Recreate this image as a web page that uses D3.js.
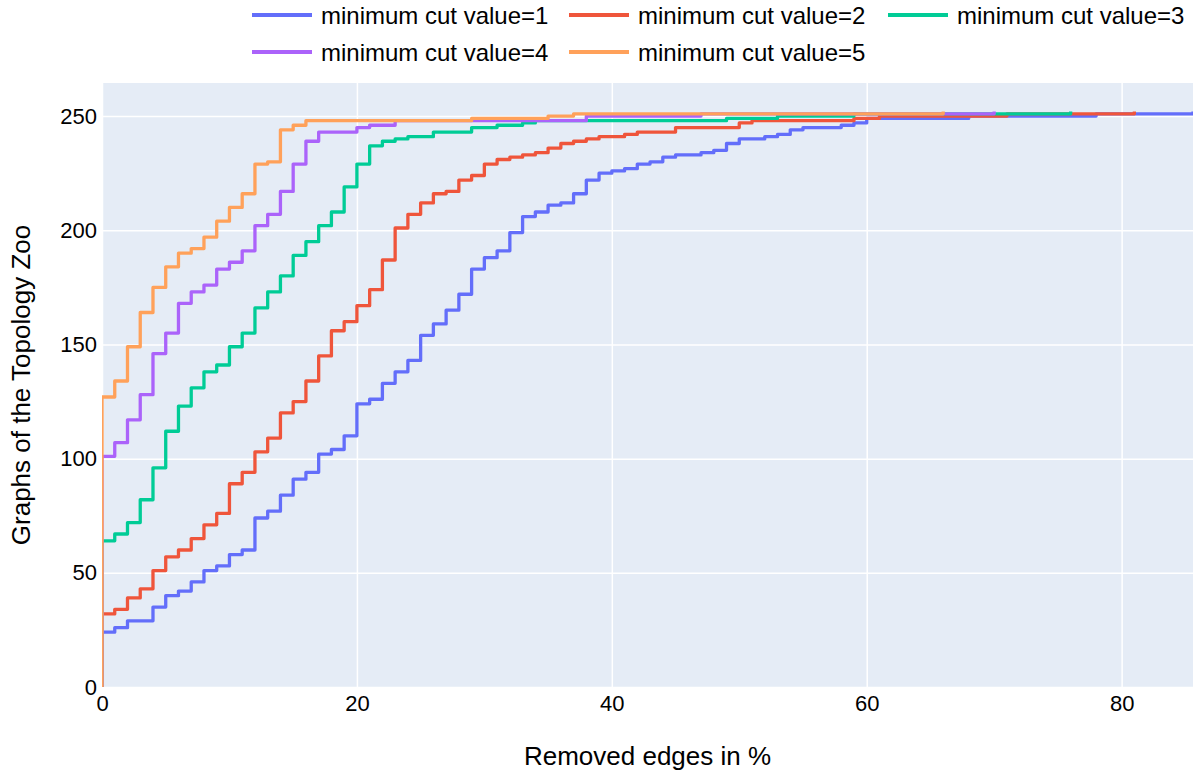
<!DOCTYPE html>
<meta charset="utf-8">
<script src="https://d3js.org/d3.v7.min.js"></script>
<style>
  body { margin: 0; background: #fff; }
  text { font-family: "Liberation Sans", Arial, sans-serif; fill: #000; }
</style>
<div id="chart"></div>
<script>
// step positions (removed edges in %) and cumulative number of graphs reached at that step
const series = ["minimum cut value=1", "minimum cut value=2", "minimum cut value=3", "minimum cut value=4", "minimum cut value=5"];
const colors = ["#636efa", "#EF553B", "#00cc96", "#ab63fa", "#FFA15A"];

const cut1X = [0, 0, 1, 2, 4, 5, 6, 7, 8, 9, 10, 11, 12, 13, 14, 15, 16, 17, 18, 19, 20, 21, 22, 23, 24, 25, 26, 27, 28, 29, 30, 31, 32, 33, 34, 35, 36, 37, 38, 39, 40, 41, 42, 43, 44, 45, 47, 48, 49, 50, 52, 53, 54, 55, 58, 59, 60, 68, 78, 85.6];
const cut1Y = [0, 24, 26, 29, 35, 40, 42, 46, 51, 53, 58, 60, 74, 77, 84, 91, 94, 102, 104, 110, 124, 126, 133, 138, 143, 154, 159, 165, 172, 183, 188, 191, 199, 206, 208, 211, 212, 216, 222, 225, 226, 227, 229, 230, 232, 233, 234, 235, 238, 240, 241, 242, 244, 245, 246, 247, 249, 250, 251, 252];

const cut2X = [0, 0, 1, 2, 3, 4, 5, 6, 7, 8, 9, 10, 11, 12, 13, 14, 15, 16, 17, 18, 19, 20, 21, 22, 23, 24, 25, 26, 27, 28, 29, 30, 31, 32, 33, 34, 35, 36, 37, 38, 39, 41, 42, 45, 50, 51, 59, 61, 71, 81];
const cut2Y = [0, 32, 34, 39, 43, 51, 57, 60, 65, 71, 76, 89, 94, 103, 109, 120, 125, 134, 145, 156, 160, 167, 174, 187, 201, 207, 212, 216, 217, 222, 224, 229, 231, 232, 233, 234, 236, 238, 239, 240, 241, 242, 243, 245, 247, 248, 249, 250, 251, 252];

const cut3X = [0, 0, 1, 2, 3, 4, 5, 6, 7, 8, 9, 10, 11, 12, 13, 14, 15, 16, 17, 18, 19, 20, 21, 22, 23, 24, 26, 29, 31, 33, 34, 49, 53, 59, 76];
const cut3Y = [0, 64, 67, 72, 82, 96, 112, 123, 131, 138, 141, 149, 155, 166, 173, 180, 189, 195, 202, 208, 219, 229, 237, 239, 240, 241, 243, 245, 246, 247, 248, 249, 250, 251, 252];

const cut4X = [0, 0, 1, 2, 3, 4, 5, 6, 7, 8, 9, 10, 11, 12, 13, 14, 15, 16, 17, 20, 21, 23, 38, 47, 70];
const cut4Y = [0, 101, 107, 117, 128, 146, 155, 168, 173, 176, 183, 186, 191, 202, 207, 217, 229, 239, 243, 245, 246, 248, 250, 251, 252];

const cut5X = [0, 0, 1, 2, 3, 4, 5, 6, 7, 8, 9, 10, 11, 12, 13, 14, 15, 16, 29, 35, 37, 66];
const cut5Y = [0, 127, 134, 149, 164, 175, 184, 190, 192, 197, 204, 210, 216, 229, 230, 244, 246, 248, 249, 250, 251, 252];

const xTicks = [0, 20, 40, 60, 80];
const yTicks = [0, 50, 100, 150, 200, 250];

const xs = [cut1X, cut2X, cut3X, cut4X, cut5X];
const ys = [cut1Y, cut2Y, cut3Y, cut4Y, cut5Y];

const width = 1193, height = 772;
const margin = {top: 83, right: 0, bottom: 85, left: 102};
const innerW = width - margin.left - margin.right;
const innerH = height - margin.top - margin.bottom;

const svg = d3.select("#chart").append("svg")
    .attr("width", width)
    .attr("height", height);

const x = d3.scaleLinear().domain([0, 85.6]).range([margin.left, width - margin.right]);
const y = d3.scaleLinear().domain([0, 264.5]).range([height - margin.bottom, margin.top]);

svg.append("rect")
    .attr("x", margin.left).attr("y", margin.top)
    .attr("width", innerW).attr("height", innerH)
    .attr("fill", "#E5ECF6");

svg.append("clipPath").attr("id", "plot-clip")
  .append("rect")
    .attr("x", margin.left).attr("y", margin.top)
    .attr("width", innerW).attr("height", innerH);

// grid
svg.append("g")
    .attr("transform", `translate(0,${height - margin.bottom})`)
    .call(d3.axisBottom(x).tickValues(xTicks).tickSize(-innerH).tickFormat(""))
    .call(g => g.select(".domain").remove())
    .call(g => g.selectAll("line").attr("stroke", "#fff").attr("stroke-width", 1.5));

svg.append("g")
    .attr("transform", `translate(${margin.left},0)`)
    .call(d3.axisLeft(y).tickValues(yTicks).tickSize(-innerW).tickFormat(""))
    .call(g => g.select(".domain").remove())
    .call(g => g.selectAll("line").attr("stroke", "#fff").attr("stroke-width", 1.5));

// tick labels
svg.append("g")
    .attr("transform", `translate(0,${height - margin.bottom})`)
    .call(d3.axisBottom(x).tickValues(xTicks).tickSize(0).tickPadding(8))
    .call(g => g.select(".domain").remove())
    .call(g => g.selectAll("text").style("font-size", "22px").attr("font-family", null));

svg.append("g")
    .attr("transform", `translate(${margin.left},0)`)
    .call(d3.axisLeft(y).tickValues(yTicks).tickSize(0).tickPadding(5))
    .call(g => g.select(".domain").remove())
    .call(g => g.selectAll("text").style("font-size", "22px").attr("font-family", null));

// lines
const line = d3.line()
    .x(d => x(d[0]))
    .y(d => y(d[1]))
    .curve(d3.curveStepAfter);

const plot = svg.append("g").attr("clip-path", "url(#plot-clip)");

series.forEach((name, i) => {
  const pts = xs[i].map((v, j) => [v, ys[i][j]]);
  plot.append("path")
      .datum(pts)
      .attr("fill", "none")
      .attr("stroke", colors[i])
      .attr("stroke-width", 3.3)
      .attr("stroke-linejoin", "round")
      .attr("d", line);
});

// axis titles
svg.append("text")
    .attr("x", margin.left + innerW / 2)
    .attr("y", 765)
    .attr("text-anchor", "middle")
    .style("font-size", "26px")
    .text("Removed edges in %");

svg.append("text")
    .attr("transform", `translate(30,${margin.top + innerH / 2}) rotate(-90)`)
    .attr("text-anchor", "middle")
    .style("font-size", "26px")
    .text("Graphs of the Topology Zoo");

// legend
const colX = [252, 569, 888];
const rowY = [16, 53];
const legend = svg.append("g");
series.forEach((name, i) => {
  const lx = colX[i % 3], ly = rowY[Math.floor(i / 3)];
  legend.append("line")
      .attr("x1", lx).attr("x2", lx + 60)
      .attr("y1", ly - 1).attr("y2", ly - 1)
      .attr("stroke", colors[i])
      .attr("stroke-width", 4);
  legend.append("text")
      .attr("x", lx + 69)
      .attr("y", ly)
      .attr("dy", "0.35em")
      .style("font-size", "24px")
      .text(name);
});
</script>
